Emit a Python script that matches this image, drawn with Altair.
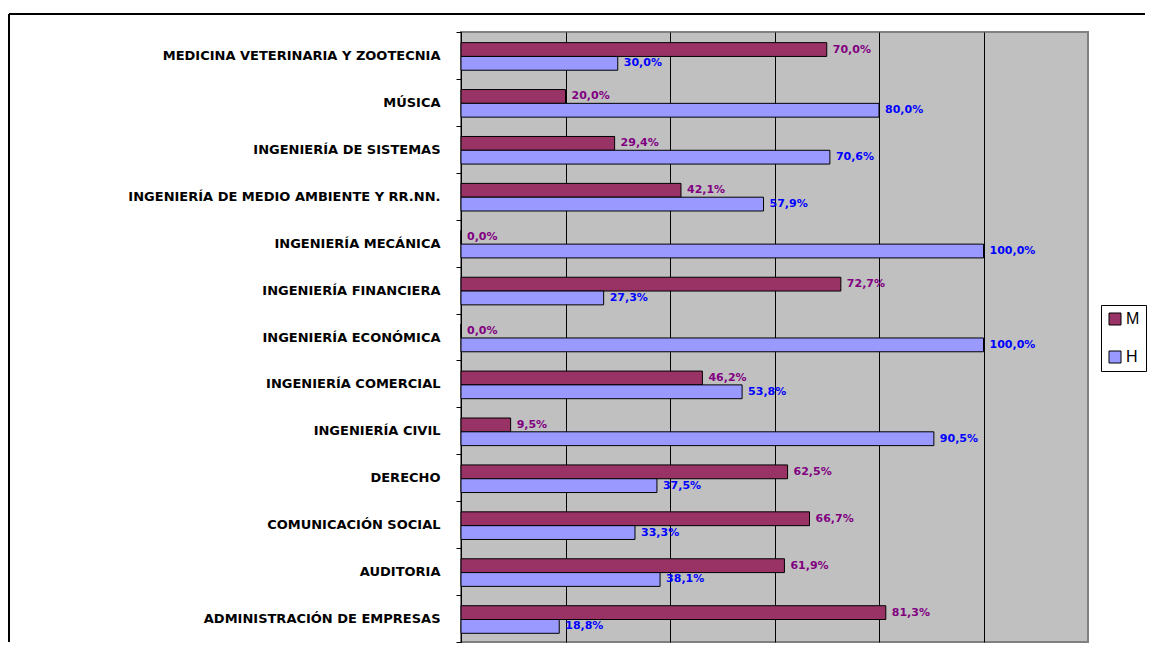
import altair as alt
import pandas as pd

# ---- data ----
carreras = [
    "MEDICINA VETERINARIA Y ZOOTECNIA",
    "MÚSICA",
    "INGENIERÍA DE SISTEMAS",
    "INGENIERÍA DE MEDIO AMBIENTE Y RR.NN.",
    "INGENIERÍA MECÁNICA",
    "INGENIERÍA FINANCIERA",
    "INGENIERÍA ECONÓMICA",
    "INGENIERÍA COMERCIAL",
    "INGENIERÍA CIVIL",
    "DERECHO",
    "COMUNICACIÓN SOCIAL",
    "AUDITORIA",
    "ADMINISTRACIÓN DE EMPRESAS",
]
mujeres = [70.0, 20.0, 29.4, 42.1, 0.0, 72.7, 0.0, 46.2, 9.5, 62.5, 66.7, 61.9, 81.3]
hombres = [30.0, 80.0, 70.6, 57.9, 100.0, 27.3, 100.0, 53.8, 90.5, 37.5, 33.3, 38.1, 18.8]
series = ["M", "H"]
colores = ["#993366", "#9999FF"]
colores_texto = ["#800080", "#0000FF"]
x_ticks = [0, 20, 40, 60, 80, 100]

rows = []
for c, m, h in zip(carreras, mujeres, hombres):
    for s, v in zip(series, [m, h]):
        rows.append({"carrera": c, "serie": s, "valor": v,
                     "etiqueta": f"{v:.1f}".replace(".", ",") + "%"})
df = pd.DataFrame(rows)

W, H = 627, 610

y_enc = alt.Y(
    "carrera:N", sort=carreras,
    scale=alt.Scale(paddingInner=0, paddingOuter=0),
    axis=alt.Axis(title=None, tickBand="extent", labelFont="DejaVu Sans",
                  labelFontWeight="bold", labelFontSize=13, labelColor="black",
                  labelLimit=440, labelPadding=16, tickSize=5, tickColor="black",
                  domainColor="black", grid=False),
)
yoff = alt.YOffset("serie:N", sort=series,
                   scale=alt.Scale(paddingOuter=0.7, paddingInner=0, align=0.55))
x_enc = alt.X(
    "valor:Q",
    scale=alt.Scale(domain=[0, 120], nice=False, zero=True),
    axis=alt.Axis(title=None, labels=False, ticks=False, domain=False, grid=True,
                  gridColor="black", gridOpacity=1, gridWidth=1, values=x_ticks),
)

bars = alt.Chart(df).mark_bar(stroke="black", strokeWidth=1).encode(
    x=x_enc, y=y_enc, yOffset=yoff,
    color=alt.Color(
        "serie:N",
        scale=alt.Scale(domain=series, range=colores),
        legend=alt.Legend(
            title=None, orient="none", legendX=640, legendY=273,
            symbolType="square", symbolSize=144, symbolStrokeColor="black",
            symbolStrokeWidth=1, labelFont="Liberation Sans", labelFontSize=16,
            labelColor="black", strokeColor="black", fillColor="white",
            padding=6, rowPadding=22, labelOffset=3,
        ),
    ),
)

labels = alt.Chart(df).mark_text(
    align="left", baseline="middle", dx=6, font="DejaVu Sans",
    fontWeight="bold", fontSize=11,
).encode(
    x=x_enc, y=y_enc, yOffset=yoff, text="etiqueta:N",
    color=alt.condition("datum.serie == 'M'", alt.value(colores_texto[0]),
                        alt.value(colores_texto[1])),
)

frame_df = pd.DataFrame({"k": [0]})
top_line = alt.Chart(frame_df).mark_rule(color="black", strokeWidth=2).encode(
    x=alt.value(-452), x2=alt.value(684), y=alt.value(-18))
left_line = alt.Chart(frame_df).mark_rule(color="black", strokeWidth=2).encode(
    x=alt.value(-452), y=alt.value(-18), y2=alt.value(H))

chart = alt.layer(bars, labels, top_line, left_line).properties(
    width=W, height=H,
    padding={"left": 0, "top": 5, "right": 0, "bottom": 0},
    background="white",
).configure_view(
    fill="#C0C0C0", stroke="#808080", strokeWidth=2,
)

chart.save("out.html", embed_options={"renderer": "svg", "actions": False})
